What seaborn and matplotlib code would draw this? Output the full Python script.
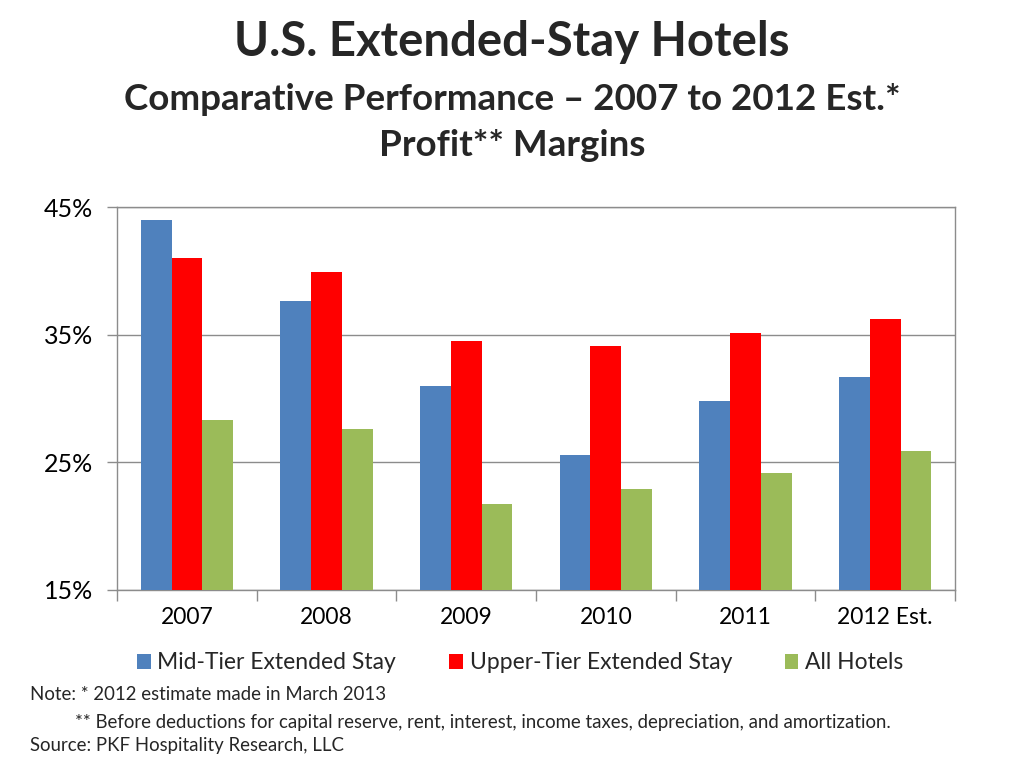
import pandas as pd
import matplotlib.pyplot as plt
import matplotlib.ticker as mticker
from matplotlib.patches import Patch
import seaborn as sns

# Data (profit margin, %)
years = ["2007", "2008", "2009", "2010", "2011", "2012 Est."]
mid_tier = [44.0, 37.6, 31.0, 25.6, 29.8, 31.7]
upper_tier = [41.0, 39.9, 34.5, 34.1, 35.1, 36.2]
all_hotels = [28.3, 27.6, 21.7, 22.9, 24.2, 25.9]

series = ["Mid-Tier Extended Stay", "Upper-Tier Extended Stay", "All Hotels"]
colors = ["#4F81BD", "#FF0000", "#9BBB59"]

df = pd.DataFrame({
    "year": years * 3,
    "margin": mid_tier + upper_tier + all_hotels,
    "segment": [s for s in series for _ in years],
})

sns.set_theme(style="white")
plt.rcParams["font.family"] = ["Lato", "DejaVu Sans"]

fig = plt.figure(figsize=(10.24, 7.69), dpi=100)
ax = fig.add_axes([0.1143, 0.2328, 0.8183, 0.498])

sns.barplot(data=df, x="year", y="margin", hue="segment", palette=colors,
            width=0.66, saturation=1, linewidth=0, edgecolor="none",
            ax=ax, legend=False, zorder=3)

ax.set_ylim(15, 45)
ax.set_yticks([15, 25, 35, 45])
ax.yaxis.set_major_formatter(mticker.FuncFormatter(lambda v, p: f"{v:.0f}%"))
ax.grid(axis="y", color="#8c8c8c", linewidth=1, zorder=0)
ax.set_xlim(-0.5, 5.5)
ax.set_xlabel("")
ax.set_ylabel("")

for side in ["top", "right", "left", "bottom"]:
    ax.spines[side].set_color("#8c8c8c")
    ax.spines[side].set_linewidth(1)

# Excel-style ticks between categories
ax.set_xticks([i - 0.5 for i in range(7)], minor=True)
ax.tick_params(axis="x", which="major", length=0, labelsize=16.5, pad=12, colors="black")
ax.tick_params(axis="x", which="minor", length=8, width=1, color="#8c8c8c", bottom=True)
ax.tick_params(axis="y", which="major", length=7, width=1, color="#8c8c8c", left=True,
               labelsize=18, pad=10, labelcolor="black")

# Titles
fig.text(0.5, 0.945, "U.S. Extended-Stay Hotels", ha="center", va="center",
         fontsize=34, fontweight="bold")
fig.text(0.5, 0.870, "Comparative Performance \u2013 2007 to 2012 Est.*", ha="center",
         va="center", fontsize=26.5, fontweight="bold")
fig.text(0.5, 0.811, "Profit** Margins", ha="center", va="center",
         fontsize=26.5, fontweight="bold")

# Legend
handles = [Patch(facecolor=c, edgecolor="none") for c in colors]
fig.legend(handles, series, loc="center", bbox_to_anchor=(0.508, 0.138), ncol=3,
           frameon=False, fontsize=16.5, handlelength=0.6, handleheight=0.6,
           handletextpad=0.3, columnspacing=2.3)

# Notes
fig.text(0.029, 0.097, "Note: * 2012 estimate made in March 2013", fontsize=13.4, va="center")
fig.text(0.073, 0.061, "** Before deductions for capital reserve, rent, interest, income taxes, "
         "depreciation, and amortization.", fontsize=13.4, va="center")
fig.text(0.029, 0.030, "Source: PKF Hospitality Research, LLC", fontsize=13.4, va="center")

fig.savefig("out.png", dpi=100)
